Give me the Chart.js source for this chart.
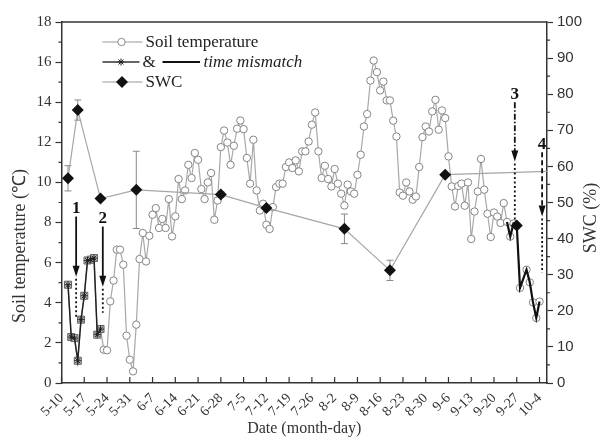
<!DOCTYPE html>
<html>
<head>
<meta charset="utf-8">
<script src="https://cdn.jsdelivr.net/npm/chart.js@4.4.1/dist/chart.umd.min.js"></script>
<style>
  html, body { margin: 0; padding: 0; background: #fff; }
  #wrap { width: 606px; height: 439px; }
</style>
</head>
<body>
<div id="wrap"><canvas id="soil-chart" width="606" height="439"></canvas></div>
<script>
const SERIF = '"Liberation Serif", "Times New Roman", serif';
const SANS = '"Liberation Sans", Arial, sans-serif';

// x axis: days after 5-10, one tick per week
const tickLabels = ['5-10', '5-17', '5-24', '5-31', '6-7', '6-14', '6-21', '6-28', '7-5', '7-12', '7-19',
    '7-26', '8-2', '8-9', '8-16', '8-23', '8-30', '9-6', '9-13', '9-20', '9-27', '10-4'];
const tickDays = tickLabels.map((_, i) => i * 7);
const xMax = 149.3;

// soil temperature, one value per day from day 2 (5-12); null = no reading
const tempFirstDay = 2;
const tempValues = [
    4.90, 2.29, 2.24, 1.11, 3.16, 4.35, 6.11, 6.15, 6.23, 2.41, 2.69,
    1.66, 1.63, 4.07, 5.11, 6.65, 6.65, 5.90, 2.36, 1.16, 0.58, 2.91,
    6.18, 7.48, 6.06, 7.34, 8.39, 8.72, 7.73, 8.18, 7.73, 9.17, 7.31,
    8.31, 10.17, 9.17, 9.60, 10.88, 10.22, 11.47, 11.13, 9.67, 9.17, 10.00,
    10.47, 8.14, 9.10, 11.76, 12.59, 11.99, 10.88, 11.83, 12.68, 13.09, 12.66,
    11.22, 9.94, 12.13, 9.60, 8.60, 8.94, 7.89, 7.68, 8.77, 9.77, 9.94,
    9.94, 10.77, 11.00, 10.72, 11.10, 10.55, 11.55, 11.55, 12.04, 12.88, 13.49,
    11.55, 10.22, 10.83, 10.17, 9.80, 10.67, 9.94, 9.44, 8.85, 9.89, 9.55,
    9.44, 10.38, 11.38, 12.79, 13.41, 15.08, 16.08, 15.50, 14.59, 15.03, 14.09,
    14.09, 13.08, 12.29, 9.50, 9.34, 10.00, 9.55, 9.14, 9.30, 10.77, 12.26,
    12.79, 12.54, 13.54, 14.12, 12.63, 13.59, 13.21, 11.30, 9.80, 8.80, 9.82,
    9.94, 8.84, 10.00, 7.18, 8.55, 9.55, 11.17, 9.64, 8.44, 7.28, 8.50,
    8.30, 7.98, 8.97, 8.03, 7.30, 7.95, 7.85, 4.74, null, 5.65, 5.02,
    4.02, 3.24, 4.06,
];
// day ranges with time mismatch
const mismatchEarly = [2, 12];
const mismatchLate = [137, 147];

// soil water content (%), right axis
const swcDays = [2, 5, 12, 23, 49, 63, 87, 101, 118, 152];
const swcValues = [56.7, 75.6, 51.1, 53.5, 52.2, 48.5, 42.7, 31.2, 57.7, 58.7];
const swcErrors = [3.5, 2.8, 0, 10.7, 0.8, 0.8, 4.1, 2.8, 0, 0];
const swcMismatchDays = [140];
const swcMismatchValues = [43.6];

// arrows 1-4 (day, shaft start, head tip, dotted end, all in °C)
const arrowMarks = [
    { label: '1', day: 4.5, from: 8.3, tip: 5.3, to: 3.3, dash: [] },
    { label: '2', day: 12.7, from: 7.8, tip: 4.8, to: 3.5, dash: [] },
    { label: '3', day: 139.4, from: 14.0, tip: 11.05, to: 8.0, dash: [6, 2, 1.5, 2] },
    { label: '4', day: 147.8, from: 11.5, tip: 8.3, to: 5.5, dash: [5, 3] },
];

const tempPoints = tempValues.map((v, i) => ({ x: tempFirstDay + i, y: v }));
const inRange = (r) => tempPoints.filter((p) => p.x >= r[0] && p.x <= r[1]);
const isEarly = (ctx) => ctx.raw && ctx.raw.x <= mismatchEarly[1];

function star(ctx, x, y, r) {
    ctx.beginPath();
    for (let a = 0; a < 4; a++) {
        const t = a * Math.PI / 4;
        ctx.moveTo(x - r * Math.cos(t), y - r * Math.sin(t));
        ctx.lineTo(x + r * Math.cos(t), y + r * Math.sin(t));
    }
    ctx.stroke();
}

function hline(ctx, x0, x1, y, color, width) {
    ctx.beginPath();
    ctx.strokeStyle = color;
    ctx.lineWidth = width;
    ctx.moveTo(x0, y);
    ctx.lineTo(x1, y);
    ctx.stroke();
}

const errorBars = {
    id: 'errorBars',
    beforeDatasetsDraw(chart) {
        const { ctx, scales: { x, y2 } } = chart;
        ctx.save();
        ctx.strokeStyle = '#888';
        ctx.lineWidth = 1;
        swcDays.forEach((d, i) => {
            if (!swcErrors[i] || d > xMax) return;
            const px = x.getPixelForValue(d);
            const top = y2.getPixelForValue(swcValues[i] + swcErrors[i]);
            const bot = y2.getPixelForValue(swcValues[i] - swcErrors[i]);
            ctx.beginPath();
            ctx.moveTo(px, top); ctx.lineTo(px, bot);
            ctx.moveTo(px - 3.5, top); ctx.lineTo(px + 3.5, top);
            ctx.moveTo(px - 3.5, bot); ctx.lineTo(px + 3.5, bot);
            ctx.stroke();
        });
        ctx.restore();
    },
};

const decorations = {
    id: 'decorations',
    afterDraw(chart) {
        const { ctx, chartArea: area, scales: { x, y, y2 } } = chart;
        ctx.save();

        // frame top, inward x ticks, minor ticks
        hline(ctx, area.left, area.right, area.top, '#333', 1.5);
        ctx.strokeStyle = '#333';
        ctx.lineWidth = 1.2;
        ctx.beginPath();
        tickDays.forEach((d) => {
            const px = x.getPixelForValue(d);
            ctx.moveTo(px, area.bottom); ctx.lineTo(px, area.bottom - 6);
        });
        for (let v = 1; v < 18; v += 2) {
            const py = y.getPixelForValue(v);
            ctx.moveTo(area.left, py); ctx.lineTo(area.left - 3, py);
        }
        for (let v = 5; v < 100; v += 10) {
            const py = y2.getPixelForValue(v);
            ctx.moveTo(area.right, py); ctx.lineTo(area.right + 3, py);
        }
        ctx.stroke();

        // axis titles for y axes (both read bottom to top)
        ctx.fillStyle = '#333';
        ctx.textAlign = 'center';
        ctx.textBaseline = 'middle';
        ctx.font = `18px ${SERIF}`;
        ctx.save();
        ctx.translate(20, 246);
        ctx.rotate(-Math.PI / 2);
        ctx.fillText('Soil temperature (℃)', 0, 0);
        ctx.restore();
        ctx.save();
        ctx.translate(591, 218);
        ctx.rotate(-Math.PI / 2);
        ctx.fillText('SWC (%)', 0, 0);
        ctx.restore();

        // arrows
        arrowMarks.forEach((m) => {
            const px = x.getPixelForValue(m.day);
            const pFrom = y.getPixelForValue(m.from);
            const pTip = y.getPixelForValue(m.tip);
            const pTo = y.getPixelForValue(m.to);
            ctx.strokeStyle = '#111';
            ctx.fillStyle = '#111';
            ctx.lineWidth = 1.8;
            ctx.setLineDash(m.dash);
            ctx.beginPath();
            ctx.moveTo(px, pFrom); ctx.lineTo(px, pTip - 8);
            ctx.stroke();
            ctx.setLineDash([2, 2.5]);
            ctx.beginPath();
            ctx.moveTo(px, pTip + 2); ctx.lineTo(px, pTo);
            ctx.stroke();
            ctx.setLineDash([]);
            ctx.beginPath();
            ctx.moveTo(px, pTip);
            ctx.lineTo(px - 3.5, pTip - 11);
            ctx.lineTo(px + 3.5, pTip - 11);
            ctx.closePath();
            ctx.fill();
            ctx.font = `bold 17px ${SERIF}`;
            ctx.textBaseline = 'bottom';
            ctx.fillText(m.label, px, pFrom + 1);
        });

        // legend
        const L = area.left;
        const rows = [area.top + 20, area.top + 40, area.top + 60];
        ctx.textAlign = 'left';
        ctx.textBaseline = 'middle';
        ctx.fillStyle = '#222';

        hline(ctx, L + 41, L + 81, rows[0], '#999', 1.2);
        ctx.beginPath();
        ctx.arc(L + 60, rows[0], 3.7, 0, Math.PI * 2);
        ctx.fillStyle = '#fff';
        ctx.fill();
        ctx.strokeStyle = '#888';
        ctx.lineWidth = 1;
        ctx.stroke();
        ctx.fillStyle = '#222';
        ctx.font = `17px ${SERIF}`;
        ctx.fillText('Soil temperature', L + 84, rows[0] + 1);

        hline(ctx, L + 41, L + 78, rows[1], '#333', 1.5);
        ctx.strokeStyle = '#222';
        ctx.lineWidth = 1;
        star(ctx, L + 59.5, rows[1], 3.5);
        ctx.fillText('&', L + 81, rows[1] + 1);
        hline(ctx, L + 101, L + 138.5, rows[1], '#111', 2);
        ctx.font = `italic 17px ${SERIF}`;
        ctx.fillText('time mismatch', L + 142, rows[1] + 1);

        hline(ctx, L + 41, L + 81, rows[2], '#999', 1.2);
        ctx.beginPath();
        ctx.moveTo(L + 60.5, rows[2] - 6);
        ctx.lineTo(L + 66.5, rows[2]);
        ctx.lineTo(L + 60.5, rows[2] + 6);
        ctx.lineTo(L + 54.5, rows[2]);
        ctx.closePath();
        ctx.fillStyle = '#111';
        ctx.fill();
        ctx.fillStyle = '#222';
        ctx.font = `17px ${SERIF}`;
        ctx.fillText('SWC', L + 84, rows[2] + 1);

        ctx.restore();
    },
};

new Chart(document.getElementById('soil-chart'), {
    type: 'line',
    data: {
        datasets: [
            {
                label: 'SWC',
                data: swcDays.map((d, i) => ({ x: d, y: swcValues[i] })),
                yAxisID: 'y2',
                borderColor: '#a6a6a6',
                borderWidth: 1.2,
                pointStyle: 'rectRot',
                pointRadius: (ctx) => (ctx.raw && ctx.raw.x > xMax ? 0 : 6),
                pointBackgroundColor: '#111',
                pointBorderColor: '#111',
                pointBorderWidth: 0,
                tension: 0,
                order: 1,
            },
            {
                label: 'SWC (time mismatch)',
                data: swcMismatchDays.map((d, i) => ({ x: d, y: swcMismatchValues[i] })),
                yAxisID: 'y2',
                showLine: false,
                pointStyle: 'rectRot',
                pointRadius: 6,
                pointBackgroundColor: '#111',
                pointBorderWidth: 0,
                order: 1,
            },
            {
                label: '& time mismatch',
                data: inRange(mismatchEarly),
                yAxisID: 'y',
                borderColor: '#222',
                borderWidth: 1.5,
                pointStyle: 'star',
                pointRadius: 3.5,
                pointBorderColor: '#222',
                pointBorderWidth: 1,
                tension: 0,
                order: 2,
            },
            {
                label: 'time mismatch',
                data: inRange(mismatchLate),
                yAxisID: 'y',
                borderColor: '#111',
                borderWidth: 2.2,
                pointRadius: 0,
                spanGaps: true,
                tension: 0,
                order: 3,
            },
            {
                label: 'Soil temperature',
                data: tempPoints,
                yAxisID: 'y',
                borderColor: '#a8a8a8',
                borderWidth: 1.2,
                spanGaps: true,
                pointStyle: (ctx) => (isEarly(ctx) ? 'rect' : 'circle'),
                pointRadius: (ctx) => (isEarly(ctx) ? 5 : 3.7),
                pointBackgroundColor: (ctx) => (isEarly(ctx) ? '#c4c4c4' : '#fff'),
                pointBorderColor: (ctx) => (isEarly(ctx) ? '#666' : '#858585'),
                pointBorderWidth: 1,
                tension: 0,
                order: 4,
            },
        ],
    },
    options: {
        responsive: false,
        animation: false,
        devicePixelRatio: 1,
        layout: { padding: { top: 22, left: 0, right: 0, bottom: 0 } },
        plugins: {
            legend: { display: false },
            tooltip: { enabled: false },
        },
        scales: {
            x: {
                type: 'linear',
                min: 0,
                max: xMax,
                afterBuildTicks: (s) => { s.ticks = tickDays.map((v) => ({ value: v })); },
                afterFit: (s) => { s.height = 56; },
                ticks: {
                    autoSkip: false,
                    maxRotation: 45,
                    minRotation: 45,
                    padding: 7,
                    color: '#333',
                    font: { family: SERIF, size: 14 },
                    callback: (v, i) => tickLabels[i],
                },
                grid: { display: false, drawTicks: false },
                border: { display: true, color: '#333', width: 1.5 },
                title: {
                    display: true,
                    text: 'Date (month-day)',
                    color: '#333',
                    font: { family: SERIF, size: 16 },
                    padding: { top: 0, bottom: 1 },
                },
            },
            y: {
                position: 'left',
                min: 0,
                max: 18,
                afterFit: (s) => { s.width = 61.5; },
                ticks: { stepSize: 2, padding: 4, color: '#333', font: { family: SERIF, size: 15 } },
                grid: { drawOnChartArea: false, tickLength: 6, tickColor: '#333', tickWidth: 1.2 },
                border: { color: '#333', width: 1.5 },
            },
            y2: {
                position: 'right',
                min: 0,
                max: 100,
                afterFit: (s) => { s.width = 59; },
                ticks: { stepSize: 10, padding: 4, color: '#333', font: { family: SANS, size: 15 } },
                grid: { drawOnChartArea: false, tickLength: 6, tickColor: '#333', tickWidth: 1.2 },
                border: { color: '#333', width: 1.5 },
            },
        },
    },
    plugins: [errorBars, decorations],
});
</script>
</body>
</html>
